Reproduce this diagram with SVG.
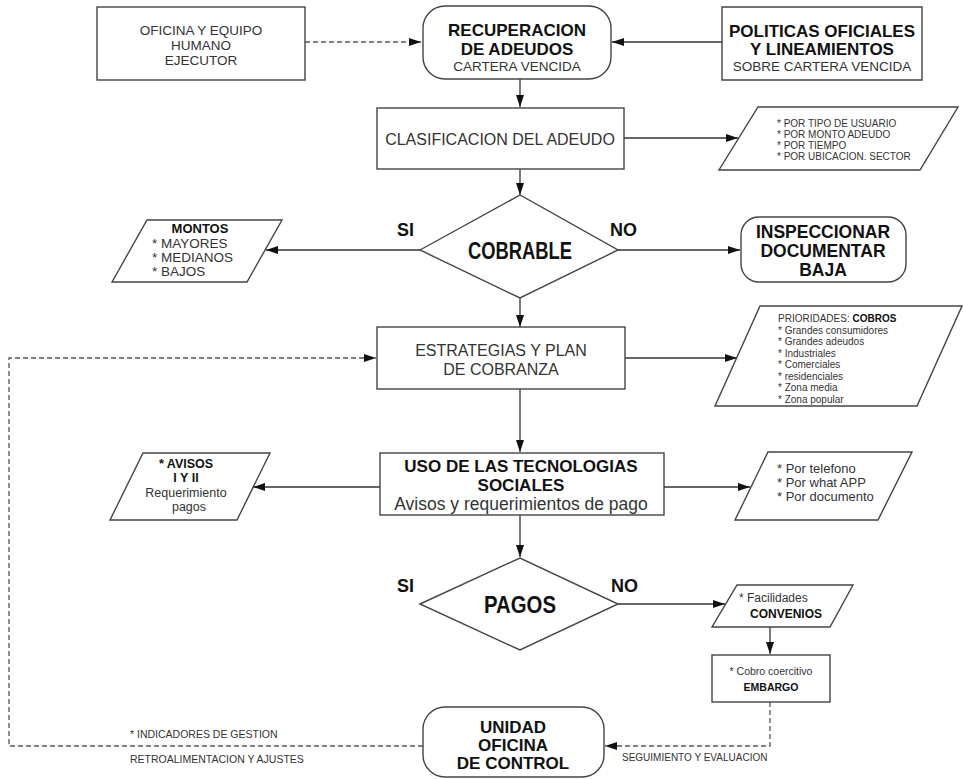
<svg xmlns="http://www.w3.org/2000/svg" width="963" height="779" viewBox="0 0 963 779">
<style>
.shape{fill:#fff;stroke:#444;stroke-width:1.4}
.conn{fill:none;stroke:#333;stroke-width:1.3}
.dash{fill:none;stroke:#555;stroke-width:1.3;stroke-dasharray:5 3}
text{font-family:"Liberation Sans",Arial,sans-serif;fill:#222}
.r{font-weight:normal;fill:#333}
.b{font-weight:bold;fill:#111}
.c{text-anchor:middle}
</style>
<defs>
<marker id="ah" viewBox="0 0 12 8" refX="12" refY="4" markerWidth="12" markerHeight="8" orient="auto" markerUnits="userSpaceOnUse"><path d="M0,0 L12,4 L0,8 z" fill="#111"/></marker>
</defs>
<rect width="963" height="779" fill="#fff"/>
<g id="connectors">
<path class="dash" d="M305,42 H421" marker-end="url(#ah)"/>
<path class="conn" d="M722,42 H612" marker-end="url(#ah)"/>
<path class="conn" d="M520,79 V107" marker-end="url(#ah)"/>
<path class="conn" d="M624,138 H738" marker-end="url(#ah)"/>
<path class="conn" d="M520,169 V195" marker-end="url(#ah)"/>
<path class="conn" d="M420,250 H266" marker-end="url(#ah)"/>
<path class="conn" d="M618,250 H740" marker-end="url(#ah)"/>
<path class="conn" d="M520,298 V327" marker-end="url(#ah)"/>
<path class="conn" d="M625,358 H737" marker-end="url(#ah)"/>
<path class="dash" d="M423,746 H9 V358 H376" marker-end="url(#ah)"/>
<path class="conn" d="M520,389 V452" marker-end="url(#ah)"/>
<path class="conn" d="M380,487 H253" marker-end="url(#ah)"/>
<path class="conn" d="M664,487 H750" marker-end="url(#ah)"/>
<path class="conn" d="M520,515 V557" marker-end="url(#ah)"/>
<path class="conn" d="M618,604 H725" marker-end="url(#ah)"/>
<path class="conn" d="M770,627 V654" marker-end="url(#ah)"/>
<path class="dash" d="M770,702 V746 H605" marker-end="url(#ah)"/>
</g>
<g id="n_oficina">
<rect class="shape" x="97" y="7" width="208" height="73"/>
<text class="r c" x="201" y="35" font-size="13.5">OFICINA Y EQUIPO</text>
<text class="r c" x="201" y="50" font-size="13.5">HUMANO</text>
<text class="r c" x="201" y="65" font-size="13.5">EJECUTOR</text>
</g>
<g id="n_recuperacion">
<rect class="shape" x="423" y="6" width="188" height="73" rx="22"/>
<text class="b c" x="517" y="36" font-size="17">RECUPERACION</text>
<text class="b c" x="517" y="55" font-size="17">DE ADEUDOS</text>
<text class="r c" x="517" y="71" font-size="13.5">CARTERA VENCIDA</text>
</g>
<g id="n_politicas">
<polygon class="shape" points="722,7 922,7 922,80 722,80"/>
<text class="b c" x="822" y="37" font-size="17">POLITICAS OFICIALES</text>
<text class="b c" x="822" y="55" font-size="17">Y LINEAMIENTOS</text>
<text class="r c" x="822" y="71" font-size="13.5">SOBRE CARTERA VENCIDA</text>
</g>
<g id="n_clasificacion">
<rect class="shape" x="377" y="108" width="247" height="61"/>
<text class="r c" x="500" y="145" font-size="16">CLASIFICACION DEL ADEUDO</text>
</g>
<g id="n_criterios">
<polygon class="shape" points="758,107 958,107 920,170 719,170"/>
<text class="r" x="777" y="127" font-size="10">* POR TIPO DE USUARIO</text>
<text class="r" x="777" y="138" font-size="10">* POR MONTO ADEUDO</text>
<text class="r" x="777" y="149" font-size="10">* POR TIEMPO</text>
<text class="r" x="777" y="160" font-size="10">* POR UBICACION. SECTOR</text>
</g>
<g id="n_cobrable">
<polygon class="shape" points="420,250 520,195 618,250 520,298"/>
<text class="b c" x="520" y="259" font-size="24" textLength="104" lengthAdjust="spacingAndGlyphs">COBRABLE</text>
<text class="b" x="397" y="236" font-size="18">SI</text>
<text class="b" x="610" y="236" font-size="18">NO</text>
</g>
<g id="n_montos">
<polygon class="shape" points="147,220 282,220 247,282 112,282"/>
<text class="b c" x="200" y="233" font-size="13">MONTOS</text>
<text class="r" x="152" y="248" font-size="13.5">* MAYORES</text>
<text class="r" x="152" y="262" font-size="13.5">* MEDIANOS</text>
<text class="r" x="152" y="276" font-size="13.5">* BAJOS</text>
</g>
<g id="n_inspeccionar">
<rect class="shape" x="741" y="217" width="165" height="65" rx="18"/>
<text class="b c" x="823" y="238" font-size="17.5">INSPECCIONAR</text>
<text class="b c" x="823" y="257" font-size="17.5">DOCUMENTAR</text>
<text class="b c" x="823" y="276" font-size="17.5">BAJA</text>
</g>
<g id="n_estrategias">
<rect class="shape" x="377" y="327" width="248" height="62"/>
<text class="r c" x="501" y="356" font-size="16">ESTRATEGIAS Y PLAN</text>
<text class="r c" x="501" y="375" font-size="16">DE COBRANZA</text>
</g>
<g id="n_prioridades">
<polygon class="shape" points="760,306 962,306 917,406 715,406"/>
<text class="r" x="778" y="322" font-size="10">PRIORIDADES: <tspan class="b">COBROS</tspan></text>
<text class="r" x="778" y="334" font-size="10">* Grandes consumidores</text>
<text class="r" x="778" y="345" font-size="10">* Grandes adeudos</text>
<text class="r" x="778" y="357" font-size="10">* Industriales</text>
<text class="r" x="778" y="368" font-size="10">* Comerciales</text>
<text class="r" x="778" y="380" font-size="10">* residenciales</text>
<text class="r" x="778" y="391" font-size="10">* Zona media</text>
<text class="r" x="778" y="403" font-size="10">* Zona popular</text>
</g>
<g id="n_uso">
<rect class="shape" x="380" y="453" width="284" height="62"/>
<text class="b c" x="521" y="472" font-size="17">USO DE LAS TECNOLOGIAS</text>
<text class="b c" x="521" y="491" font-size="17">SOCIALES</text>
<text class="r c" x="521" y="510" font-size="17.5">Avisos y requerimientos de pago</text>
</g>
<g id="n_avisos">
<polygon class="shape" points="143,453 270,453 237,520 110,520"/>
<text class="b c" x="186" y="468" font-size="12.5">* AVISOS</text>
<text class="b c" x="186" y="482" font-size="12.5">I Y II</text>
<text class="r c" x="186" y="497" font-size="12.5">Requerimiento</text>
<text class="r c" x="189" y="511" font-size="12.5">pagos</text>
</g>
<g id="n_medios">
<polygon class="shape" points="768,452 912,452 878,520 735,520"/>
<text class="r" x="777" y="473" font-size="13">* Por telefono</text>
<text class="r" x="777" y="487" font-size="13">* Por what APP</text>
<text class="r" x="777" y="501" font-size="13">* Por documento</text>
</g>
<g id="n_pagos">
<polygon class="shape" points="420,604 520,558 618,604 520,650"/>
<text class="b c" x="520" y="613" font-size="24" textLength="72" lengthAdjust="spacingAndGlyphs">PAGOS</text>
<text class="b" x="397" y="592" font-size="18">SI</text>
<text class="b" x="611" y="592" font-size="18">NO</text>
</g>
<g id="n_convenios">
<polygon class="shape" points="737,585 853,585 830,627 712,627"/>
<text class="r" x="739" y="602" font-size="12">*  Facilidades</text>
<text class="b" x="750" y="618" font-size="12">CONVENIOS</text>
</g>
<g id="n_embargo">
<rect class="shape" x="712" y="655" width="118" height="47"/>
<text class="r c" x="771" y="675" font-size="10.5">*  Cobro coercitivo</text>
<text class="b c" x="771" y="691" font-size="10.5">EMBARGO</text>
</g>
<g id="n_unidad">
<rect class="shape" x="423" y="707" width="181" height="70" rx="22"/>
<text class="b c" x="513" y="733" font-size="17">UNIDAD</text>
<text class="b c" x="513" y="751" font-size="17">OFICINA</text>
<text class="b c" x="513" y="769" font-size="17">DE CONTROL</text>
</g>
<g id="labels">
<text class="r" x="130" y="738" font-size="10.5">*  INDICADORES DE GESTION</text>
<text class="r" x="130" y="763" font-size="10.5">RETROALIMENTACION Y AJUSTES</text>
<text class="r" x="622" y="761" font-size="10">SEGUIMIENTO Y EVALUACION</text>
</g>
</svg>
